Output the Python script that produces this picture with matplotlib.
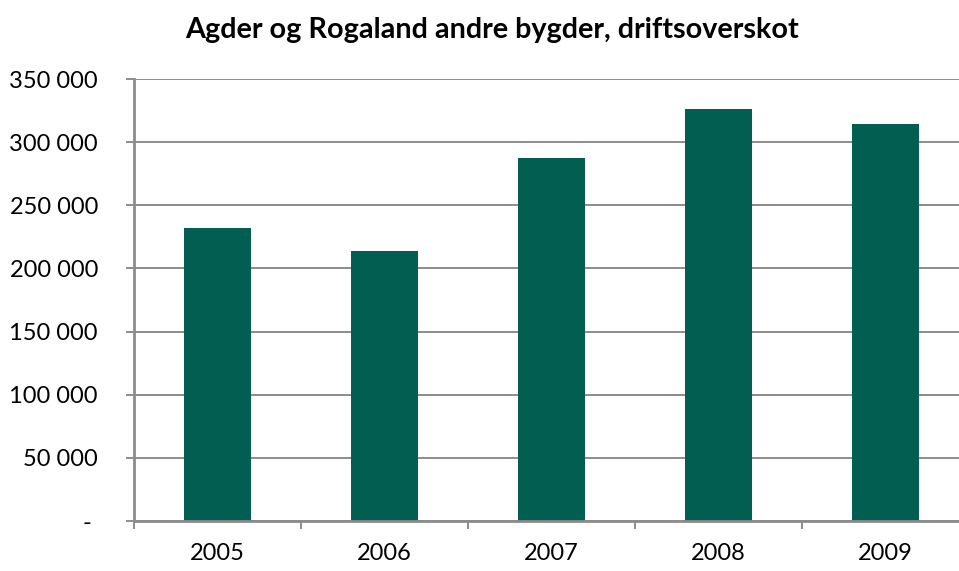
import numpy as np
import matplotlib.pyplot as plt
from matplotlib.ticker import FuncFormatter

# data
years = ['2005', '2006', '2007', '2008', '2009']
overskot = [232000, 214000, 287200, 326000, 314400]
yticks = [0, 50000, 100000, 150000, 200000, 250000, 300000, 350000]

bar_color = '#035e52'
grid_color = '#8c8c8c'

plt.rcParams['font.family'] = ['Lato', 'DejaVu Sans']

fig = plt.figure(figsize=(9.59, 5.71), dpi=100)
# the original is cut off a bit on the right, so the axes go past the edge
ax = fig.add_axes([134/959, 1 - 521/571, 835/959, (521 - 79)/571])

x = np.arange(len(years))
ax.bar(x, overskot, width=0.4, color=bar_color, zorder=3)

ax.set_xlim(-0.5, len(years) - 0.5)
ax.set_ylim(0, 350000)
ax.set_yticks(yticks)

def fmt(v, pos):
    if v == 0:
        return '- '
    return '{:,.0f}'.format(v).replace(',', ' ')

ax.yaxis.set_major_formatter(FuncFormatter(fmt))
ax.grid(axis='y', color=grid_color, linewidth=1.4, zorder=0)

ax.set_xticks(x)
ax.set_xticklabels(years)
ax.set_xticks(np.arange(len(years) + 1) - 0.5, minor=True)
ax.tick_params(axis='x', which='major', length=0, pad=16, labelsize=17)
ax.tick_params(axis='x', which='minor', length=6, width=1.4, color=grid_color)
ax.tick_params(axis='y', length=6, width=1.4, color=grid_color, pad=20,
               labelsize=17)

for s in ['top', 'right']:
    ax.spines[s].set_visible(False)
for s in ['left', 'bottom']:
    ax.spines[s].set_color(grid_color)
    ax.spines[s].set_linewidth(2)
    ax.spines[s].set_zorder(4)

fig.text(492/959, 1 - 30/571, 'Agder og Rogaland andre bygder, driftsoverskot',
         ha='center', va='center', fontsize=20.7, fontweight='bold')

fig.savefig('out.png', dpi=100)
